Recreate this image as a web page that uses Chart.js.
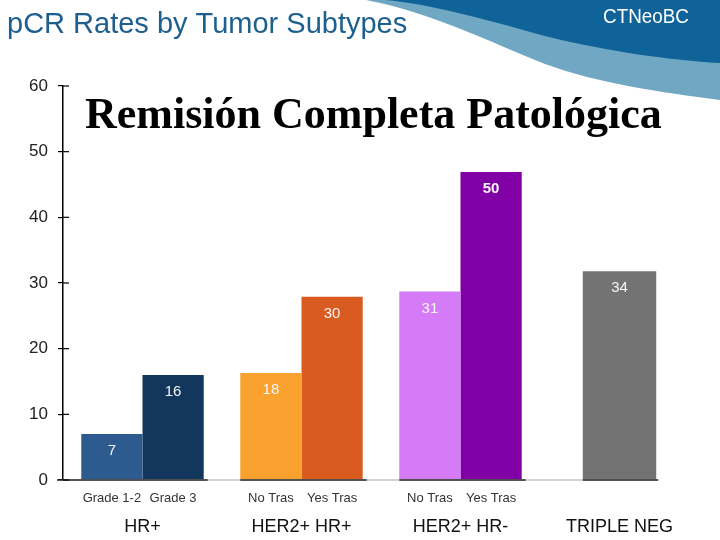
<!DOCTYPE html>
<html lang="es">
<head>
<meta charset="utf-8">
<title>pCR Rates by Tumor Subtypes</title>
<script src="https://cdn.jsdelivr.net/npm/chart.js@4.4.0/dist/chart.umd.min.js"></script>
<style>
  html, body { margin: 0; padding: 0; background: #fff; }
  canvas { display: block; }
</style>
</head>
<body>
<canvas id="pcrChart" width="720" height="540"></canvas>
<script>
// =========================================
// DATOS DEL GRÁFICO
// =========================================
const grupos = ["HR+", "HER2+ HR+", "HER2+ HR-", "TRIPLE NEG"];

// primera barra de cada grupo (Grade 1-2 / No Tras)
const primeraBarra = [7, 16.3, 28.7, null];
const primeraEtiqueta = ["7", "18", "31", null];
const primeraSub = ["Grade 1-2", "No Tras", "No Tras", null];

// segunda barra de cada grupo (Grade 3 / Yes Tras)
const segundaBarra = [16, 27.9, 46.9, null];
const segundaEtiqueta = ["16", "30", "50", null];
const segundaSub = ["Grade 3", "Yes Tras", "Yes Tras", null];

// triple negativo, una sola barra
const tripleNeg = [null, null, null, 31.8];
const tripleEtiqueta = [null, null, null, "34"];

const ticksY = [0, 10, 20, 30, 40, 50, 60];

const coloresPrimera = ["#2e5b8f", "#f9a22f", "#d57bf7", "#737373"];
const coloresSegunda = ["#13365c", "#d95b20", "#8000a6", "#737373"];

const FUENTE = "'Liberation Sans', Arial, sans-serif";

// =========================================
// PLUGIN: FONDO, CABECERA Y TÍTULO
// =========================================
const pluginFondo = {
    id: "fondo",
    beforeDraw(chart) {
        const ctx = chart.ctx;
        ctx.save();
        ctx.fillStyle = "#fff";
        ctx.fillRect(0, 0, chart.width, chart.height);

        // franja azul clara
        ctx.fillStyle = "#70a8c3";
        ctx.beginPath();
        ctx.moveTo(366, 0);
        ctx.lineTo(720, 0);
        ctx.lineTo(720, 100);
        ctx.bezierCurveTo(660, 92, 600, 84, 545, 64);
        ctx.bezierCurveTo(490, 42, 430, 12, 366, 0);
        ctx.closePath();
        ctx.fill();

        // franja azul oscura
        ctx.fillStyle = "#0f6399";
        ctx.beginPath();
        ctx.moveTo(385, 0);
        ctx.lineTo(720, 0);
        ctx.lineTo(720, 63);
        ctx.bezierCurveTo(670, 60, 610, 52, 545, 36);
        ctx.bezierCurveTo(480, 18, 430, 4, 385, 0);
        ctx.closePath();
        ctx.fill();

        ctx.textBaseline = "alphabetic";
        ctx.textAlign = "left";
        ctx.fillStyle = "#1d5f8e";
        ctx.font = "29px " + FUENTE;
        ctx.fillText("pCR Rates by Tumor Subtypes", 7, 33, 402);

        ctx.fillStyle = "#ffffff";
        ctx.font = "20px " + FUENTE;
        ctx.fillText("CTNeoBC", 603, 23, 86);

        ctx.fillStyle = "#000";
        ctx.font = "bold 44px 'Liberation Serif', 'Times New Roman', serif";
        ctx.fillText("Remisión Completa Patológica", 85, 128, 577);
        ctx.restore();
    }
};

// =========================================
// PLUGIN: LÍNEA BASE, MARCAS INTERIORES Y ETIQUETAS
// =========================================
const pluginEtiquetas = {
    id: "etiquetas",
    afterDatasetsDraw(chart) {
        const ctx = chart.ctx;
        const area = chart.chartArea;
        const escalaY = chart.scales.y;
        const metaA = chart.getDatasetMeta(0).data;
        const metaB = chart.getDatasetMeta(1).data;
        const metaC = chart.getDatasetMeta(2).data;
        const base = escalaY.getPixelForValue(0);

        ctx.save();

        // línea base gris clara
        const finTriple = metaC[3].x + metaC[3].width / 2 + 2;
        ctx.strokeStyle = "#c4c4c4";
        ctx.lineWidth = 1.5;
        ctx.beginPath();
        ctx.moveTo(area.left, base);
        ctx.lineTo(finTriple, base);
        ctx.stroke();

        // tramos oscuros bajo cada grupo
        ctx.strokeStyle = "#2a2a2a";
        grupos.forEach((g, i) => {
            let ini, fin;
            if (primeraBarra[i] !== null) {
                ini = metaA[i].x - metaA[i].width / 2;
                fin = metaB[i].x + metaB[i].width / 2 + 4;
            } else {
                ini = metaC[i].x - metaC[i].width / 2;
                fin = finTriple;
            }
            if (i === 0) ini = area.left - 6;
            ctx.beginPath();
            ctx.moveTo(ini, base);
            ctx.lineTo(fin, base);
            ctx.stroke();
        });

        // marcas del eje Y hacia dentro
        ctx.strokeStyle = "#000";
        ctx.lineWidth = 1.2;
        ticksY.forEach((v) => {
            const y = escalaY.getPixelForValue(v);
            ctx.beginPath();
            ctx.moveTo(area.left, y);
            ctx.lineTo(area.left + 6, y);
            ctx.stroke();
        });

        // valores dentro de las barras
        ctx.textAlign = "center";
        ctx.textBaseline = "middle";
        const escribirValores = (meta, textos) => {
            meta.forEach((bar, i) => {
                if (!textos[i]) return;
                ctx.fillStyle = "#f6f6f6";
                ctx.font = (textos[i] === "50" ? "bold " : "") + "15px " + FUENTE;
                ctx.fillText(textos[i], bar.x, bar.y + 17);
            });
        };
        escribirValores(metaA, primeraEtiqueta);
        escribirValores(metaB, segundaEtiqueta);
        escribirValores(metaC, tripleEtiqueta);

        // subetiquetas bajo cada barra
        ctx.fillStyle = "#333";
        ctx.font = "13px " + FUENTE;
        metaA.forEach((bar, i) => {
            if (primeraSub[i]) ctx.fillText(primeraSub[i], bar.x, 498);
        });
        metaB.forEach((bar, i) => {
            if (segundaSub[i]) ctx.fillText(segundaSub[i], bar.x, 498);
        });

        ctx.restore();
    }
};

// =========================================
// CREACIÓN DEL GRÁFICO
// =========================================
function crearGrafico() {
    const el = document.getElementById("pcrChart");
    if (!el || typeof Chart === "undefined") return;

    new Chart(el, {
        type: "bar",
        data: {
            labels: grupos,
            datasets: [
                {
                    data: primeraBarra,
                    backgroundColor: coloresPrimera,
                    categoryPercentage: 0.77,
                    barPercentage: 1
                },
                {
                    data: segundaBarra,
                    backgroundColor: coloresSegunda,
                    categoryPercentage: 0.77,
                    barPercentage: 1
                },
                {
                    data: tripleNeg,
                    backgroundColor: "#737373",
                    grouped: false,
                    categoryPercentage: 0.77,
                    barPercentage: 0.6
                }
            ]
        },
        options: {
            responsive: false,
            animation: false,
            layout: { padding: { top: 86, right: 21, bottom: 0, left: 0 } },
            plugins: {
                legend: { display: false },
                tooltip: { enabled: false }
            },
            scales: {
                x: {
                    grid: { display: false },
                    border: { display: false },
                    ticks: {
                        color: "#111",
                        font: { family: FUENTE, size: 18 },
                        padding: 28
                    },
                    afterFit(scale) { scale.height = 60; }
                },
                y: {
                    min: 0,
                    max: 60,
                    afterBuildTicks(scale) {
                        scale.ticks = ticksY.map((v) => ({ value: v }));
                    },
                    border: { color: "#000", width: 1.5 },
                    grid: {
                        drawOnChartArea: false,
                        drawTicks: true,
                        tickLength: 5,
                        color: "#000",
                        lineWidth: 1.2
                    },
                    ticks: {
                        color: "#222",
                        font: { family: FUENTE, size: 17 },
                        padding: 10
                    },
                    afterFit(scale) { scale.width = 63; }
                }
            }
        },
        plugins: [pluginFondo, pluginEtiquetas]
    });
}

window.addEventListener("DOMContentLoaded", () => {
    crearGrafico();
});
</script>
</body>
</html>
